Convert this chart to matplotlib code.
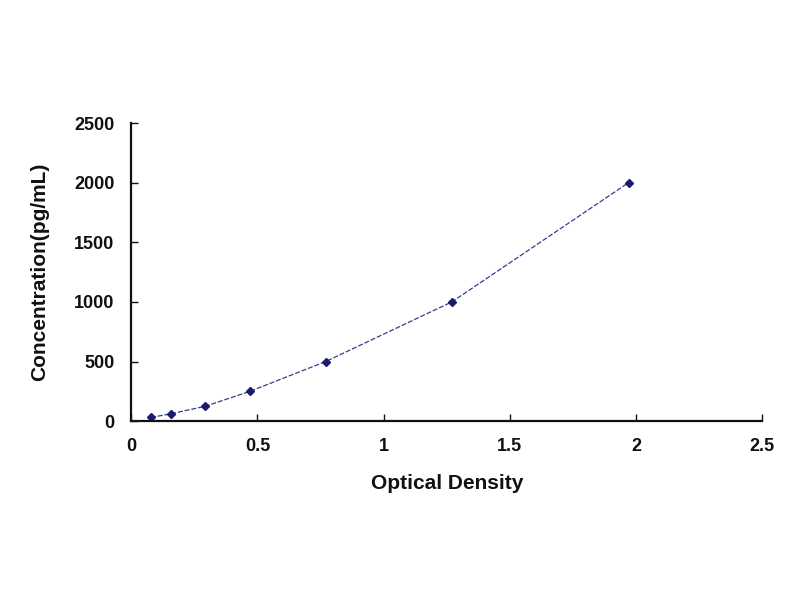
import matplotlib.pyplot as plt

plt.rcParams["font.family"] = ["Liberation Sans", "DejaVu Sans"]

# standard curve points
optical_density = [0.078, 0.158, 0.293, 0.47, 0.77, 1.27, 1.97]
concentration = [31.25, 62.5, 125, 250, 500, 1000, 2000]

x_ticks = [0, 0.5, 1, 1.5, 2, 2.5]
x_tick_labels = ["0", "0.5", "1", "1.5", "2", "2.5"]
y_ticks = [0, 500, 1000, 1500, 2000, 2500]


def main():
    fig = plt.figure(figsize=(8, 6), dpi=100)
    ax = fig.add_axes([0.164, 0.298, 0.789, 0.497])

    ax.plot(optical_density, concentration, color="#3a3a8c", lw=0.9,
            ls=(0, (4, 1.5)), marker="D", ms=4.5, mfc="#1a1a6e",
            mec="#1a1a6e")

    ax.set_xlim(0, 2.5)
    ax.set_ylim(0, 2500)
    ax.set_xticks(x_ticks)
    ax.set_xticklabels(x_tick_labels)
    ax.set_yticks(y_ticks)

    for side in ["top", "right"]:
        ax.spines[side].set_visible(False)
    for side in ["left", "bottom"]:
        ax.spines[side].set_linewidth(1.6)
        ax.spines[side].set_color("#111111")

    ax.tick_params(direction="in", length=5, width=1, colors="#111111",
                   labelsize=13, pad=12)
    for lab in ax.get_xticklabels() + ax.get_yticklabels():
        lab.set_fontweight("bold")

    ax.set_xlabel("Optical Density", fontsize=15, fontweight="bold",
                  labelpad=14, color="#111111")
    ax.set_ylabel("Concentration(pg/mL)", fontsize=15, fontweight="bold",
                  labelpad=18, color="#111111")

    fig.savefig("out.png", dpi=100)


if __name__ == "__main__":
    main()
